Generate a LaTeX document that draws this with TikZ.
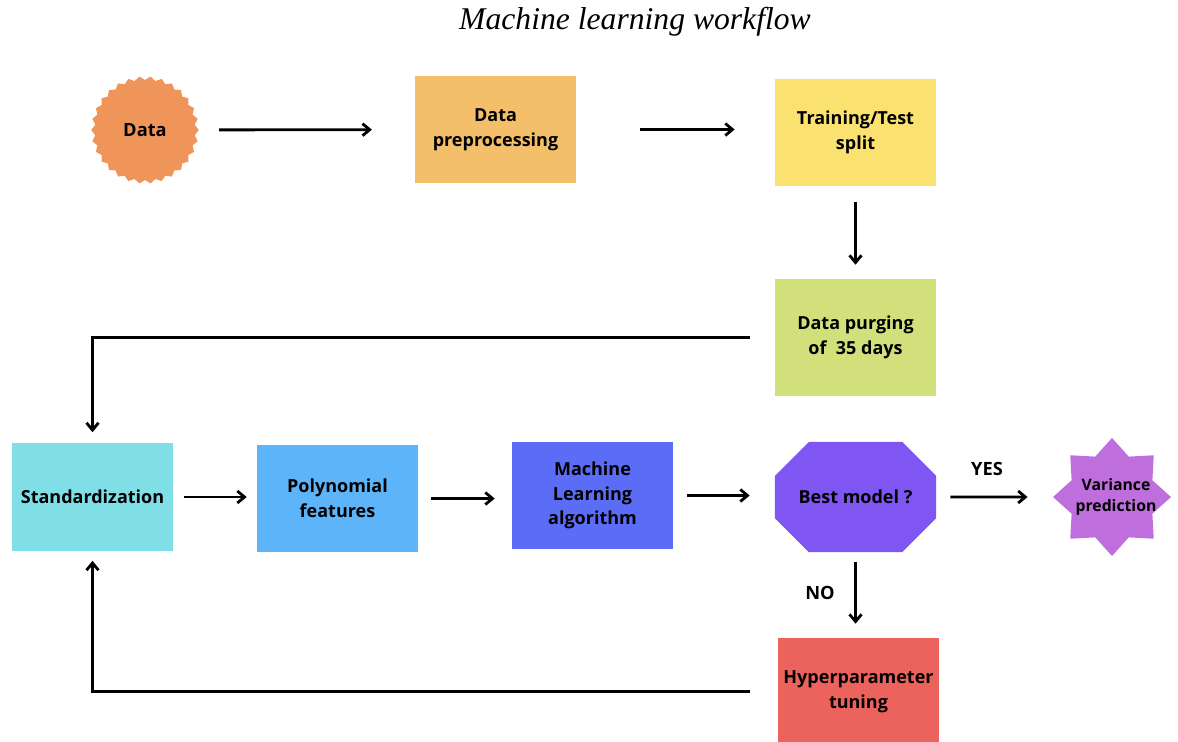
\documentclass[tikz,border=0pt]{standalone}
\usepackage{fontspec}
\setmainfont{Open Sans}
\newfontfamily\titlefont{Liberation Serif}
\usepackage{xcolor}
\usetikzlibrary{arrows.meta,shapes.geometric,shapes.misc}
\definecolor{NaranjaData}{RGB}{240,149,90}
\definecolor{AmbarPrep}{RGB}{244,191,106}
\definecolor{AmarilloSplit}{RGB}{250,225,112}
\definecolor{VerdePurga}{RGB}{210,224,123}
\definecolor{CianStd}{RGB}{128,222,230}
\definecolor{AzulPoly}{RGB}{94,180,248}
\definecolor{AzulML}{RGB}{91,109,246}
\definecolor{VioletaBest}{RGB}{127,86,242}
\definecolor{LilaVar}{RGB}{190,111,221}
\definecolor{RojoHyper}{RGB}{236,98,92}
\begin{document}
\begin{tikzpicture}[x=0.025cm,y=-0.025cm,>={Straight Barb[length=1.8mm,width=3mm]},
  etapa/.style={rectangle,minimum width=4.025cm,minimum height=2.675cm,inner sep=2pt,
    align=center,font=\fontsize{12.8}{17.6}\selectfont\bfseries},
  rotulo/.style={align=center,font=\fontsize{13}{17.6}\selectfont\bfseries},
  flecha/.style={->,line width=2pt}]
  \useasboundingbox (0,0) rectangle (1178,742);
  \node[font=\titlefont\itshape\fontsize{22.5}{26}\selectfont] (titulo) at (635,22) {Machine learning workflow};
  \node[star,star points=30,star point ratio=0.93,minimum size=2.5cm,inner sep=0pt,fill=NaranjaData] (data) at (145,130) {};
  \node[rotulo] (datat) at (data) {Data};
  \node[etapa,fill=AmbarPrep] (prep) at (495.5,129.5) {Data\\preprocessing};
  \node[etapa,fill=AmarilloSplit] (split) at (855.5,132.5) {Training/Test\\split};
  \node[etapa,fill=VerdePurga,minimum height=2.925cm] (purga) at (855.5,337.5) {Data purging\\of\ \ 35 days};
  \node[etapa,fill=CianStd] (std) at (92.5,497) {Standardization};
  \node[etapa,fill=AzulPoly] (poly) at (337.5,498.5) {Polynomial\\features};
  \node[etapa,fill=AzulML] (ml) at (592.5,495.5) {Machine\\Learning\\algorithm};
  \node[etapa,chamfered rectangle,chamfered rectangle xsep=0.75cm,chamfered rectangle ysep=0.6cm,
    minimum height=2.75cm,fill=VioletaBest] (best) at (855.5,497) {Best model ?};
  \node[star,star points=8,star point ratio=1.35,minimum size=2.95cm,inner sep=0pt,fill=LilaVar] (var) at (1112,497) {};
  \node[align=center,font=\fontsize{11.2}{15.5}\selectfont\bfseries] (vart) at (1116,497) {Variance\\prediction};
  \node[etapa,fill=RojoHyper] (hyper) at (858.5,691.5) {Hyperparameter\\tuning};
  \node[rotulo] (yes) at (987,469) {YES};
  \node[rotulo] (no) at (820,593) {NO};
  \draw[flecha,shorten <=0.5cm,shorten >=1.07cm] (data) -- (prep);
  \draw[flecha,shorten <=1.6cm,shorten >=1cm] (prep.east) -- (prep.east -| split.west);
  \draw[flecha,shorten <=0.4cm,shorten >=0.35cm] (split) -- (purga);
  \draw[flecha,shorten <=0.625cm,shorten >=0.275cm] (purga.west) -| (std.north);
  \draw[flecha,shorten <=0.275cm,shorten >=0.25cm] (std.east) -- (std.east -| poly.west);
  \draw[flecha,shorten <=0.325cm,shorten >=0.425cm] (poly.east) -- (poly.east -| ml.west);
  \draw[flecha,shorten <=0.35cm,shorten >=0.625cm] (ml.east) -- (ml.east -| best.west);
  \draw[flecha,shorten <=0.35cm,shorten >=0.625cm] (best) -- (var);
  \draw[flecha,shorten <=0.25cm,shorten >=0.35cm] (best.south) -- (best.south |- hyper.north);
  \draw[flecha,shorten <=0.7cm,shorten >=0.25cm] (hyper.west) -| (std.south);
\end{tikzpicture}
\end{document}
